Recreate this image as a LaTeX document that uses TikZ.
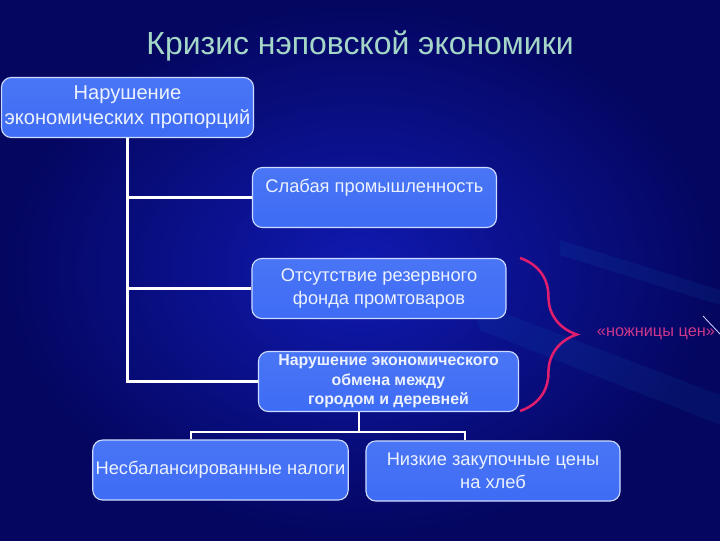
\documentclass[tikz,border=0pt]{standalone}
\usepackage{fontspec}
\setmainfont{Liberation Sans}
\usepackage{xcolor}
\usetikzlibrary{calc,decorations.pathreplacing}

\definecolor{deepnavy}{RGB}{4,6,95}
\definecolor{midnavy}{RGB}{16,26,178}
\definecolor{boxblue}{RGB}{62,108,245}
\definecolor{boxedge}{RGB}{205,220,255}
\definecolor{boxtext}{RGB}{236,242,255}
\definecolor{titletext}{RGB}{165,215,200}
\definecolor{bracered}{RGB}{225,30,110}
\definecolor{scissortext}{RGB}{205,55,140}

\begin{document}
\begin{tikzpicture}[x=0.025cm, y=-0.025cm,
    box/.style={draw=boxedge, line width=0.8pt, rounded corners=7pt,
      top color=boxblue!94!white, bottom color=boxblue,
      text=boxtext, align=center, inner sep=2pt,
      minimum height=1.5cm},
    link/.style={draw=white, line width=2pt},
    textA/.style={font=\fontsize{14.3}{18}\selectfont},
    textB/.style={font=\fontsize{13}{16}\selectfont}]
  \useasboundingbox (0,0) rectangle (720,540);
  % background of the slide
  \shade[inner color=midnavy, outer color=deepnavy] (0,0) rectangle (720,540);
  \begin{scope}[opacity=0.10]
    \fill[cyan!60!blue] (470,300) -- (720,395) -- (720,425) -- (480,330) -- cycle;
    \fill[cyan!60!blue] (560,240) -- (720,290) -- (720,305) -- (560,255) -- cycle;
  \end{scope}
  \draw[white!80!blue, line width=0.6pt] (703,316) -- (720,334);

  \node[text=titletext, font=\fontsize{22.7}{27}\selectfont] (title) at (360,46)
    {Кризис нэповской экономики};

  \node[box, textA, minimum width=6.3cm] (prop) at (127.5,107.5)
    {Нарушение\\экономических пропорций};
  \node[box, textB, minimum width=6.1cm] (weak) at (374.5,197.5)
    {Слабая промышленность\\\mbox{}};
  \node[box, textB, minimum width=6.35cm] (fund) at (379,288.5)
    {Отсутствие резервного\\фонда промтоваров};
  \node[box, font=\bfseries\fontsize{11.3}{13.8}\selectfont, minimum width=6.5cm] (trade) at (388.5,381.5)
    {Нарушение экономического\\обмена между\\ городом и деревней};
  \node[box, textB, minimum width=6.35cm] (tax) at (220.5,470)
    {Несбалансированные налоги};
  \node[box, textB, minimum width=6.35cm] (price) at (493,471)
    {Низкие закупочные цены\\на хлеб};

  % tree lines
  \draw[link] (prop.south) |- (trade.west);
  \draw[link] (prop.south |- weak.west) -- (weak.west);
  \draw[link] (prop.south |- fund.west) -- (fund.west);
  \coordinate (fork) at (359,432);
  \draw[link] (trade.south -| fork) -- (fork);
  \draw[link] ($(tax.north)+(-29.5,0)$) |- (fork) -| ($(price.north)+(-28,0)$);

  % brace
  \coordinate (bracetop) at (520,258);
  \coordinate (bracebot) at (520,411);
  \draw[bracered, line width=1.8pt, decorate,
    decoration={brace, amplitude=1.42cm, aspect=0.5}] (bracetop) -- (bracebot);
  \node[text=scissortext, font=\fontsize{11.6}{13}\selectfont, anchor=west] (scissors)
    at (592,334) {«ножницы цен»};
\end{tikzpicture}
\end{document}
